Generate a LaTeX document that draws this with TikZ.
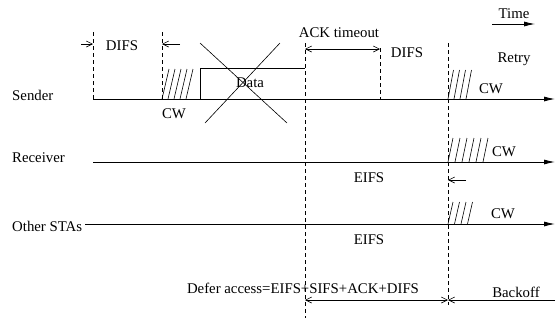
\documentclass[tikz,border=0pt]{standalone}
\usepackage{fontspec}
\setmainfont{Liberation Serif}
\usetikzlibrary{arrows.meta}
\tikzset{barb/.tip={Straight Barb[length=6pt,width=6pt]}}
\begin{document}
\begin{tikzpicture}[x=1pt,y=-1pt,
  lbl/.style={font=\fontsize{14.8}{16}\selectfont, inner sep=0pt, anchor=base},
  lblw/.style={lbl, anchor=base west},
  axis/.style={line width=0.9pt,-{Latex[length=11pt,width=5pt]}},
  guide/.style={dash pattern=on 4pt off 3pt, line width=0.6pt},
  dim/.style={line width=0.6pt},
  hatch/.style={line width=0.6pt}]
\useasboundingbox (0,0) rectangle (558,322);

% labels
\node[lblw] (sender) at (12,100) {Sender};
\node[lblw] (receiver) at (12,162) {Receiver};
\node[lblw] (others) at (12,231) {Other STAs};
\node[lbl] (difsA) at (122,50) {DIFS};
\node[lbl] (cwA) at (174,118) {CW};
\node[lbl] (data) at (250,87) {Data};
\node[lbl] (ack) at (339,37) {ACK timeout};
\node[lbl] (difsB) at (407,57) {DIFS};
\node[lbl] (time) at (514,18) {Time};
\node[lbl] (retry) at (514,62) {Retry};
\node[lbl] (cwB) at (491,93) {CW};
\node[lbl] (cwC) at (504,156) {CW};
\node[lbl] (eifsA) at (369,182) {EIFS};
\node[lbl] (cwD) at (503,218) {CW};
\node[lbl] (eifsB) at (369,244) {EIFS};
\node[lbl] (defer) at (303,293) {Defer access=EIFS+SIFS+ACK+DIFS};
\node[lbl] (backoff) at (516,297) {Backoff};

% time lines
\coordinate (s0) at (93,99);  \coordinate (s1) at (555,99);
\coordinate (r0) at (93,162); \coordinate (r1) at (555,162);
\coordinate (o0) at (85,224); \coordinate (o1) at (555,224);
\draw[axis] (s0) -- (s1);
\draw[axis] (r0) -- (r1);
\draw[axis] (o0) -- (o1);

% Time arrow
\coordinate (t0) at (492,24); \coordinate (t1) at (535,24);
\draw[axis, line width=0.8pt] (t0) -- (t1);

% dashed guides
\coordinate (g1a) at (93,32);  \coordinate (g1b) at (93,99);
\coordinate (g2a) at (162,32); \coordinate (g2b) at (162,99);
\coordinate (g3a) at (305,43); \coordinate (g3b) at (305,318);
\coordinate (g4a) at (380,48); \coordinate (g4b) at (380,99);
\coordinate (g5a) at (448,43); \coordinate (g5b) at (448,305);
\foreach \g in {1,...,5} \draw[guide] (g\g a) -- (g\g b);

% DIFS arrows
\coordinate (da0) at (81,44);  \coordinate (da1) at (93,44);
\coordinate (db0) at (180,44); \coordinate (db1) at (162,44);
\draw[dim,-{barb}] (da0) -- (da1);
\draw[dim,-{barb}] (db0) -- (db1);

% ACK timeout
\coordinate (ak0) at (305,49); \coordinate (ak1) at (380,49);
\draw[dim,{barb}-{barb}] (ak0) -- (ak1);

% EIFS small arrow
\coordinate (ea0) at (466,180); \coordinate (ea1) at (448,180);
\draw[dim,-{barb}] (ea0) -- (ea1);

% Defer / Backoff arrows
\coordinate (df0) at (305,300); \coordinate (df1) at (448,300);
\coordinate (bo0) at (555,300);
\draw[dim,{barb}-{barb}] (df0) -- (df1);
\draw[dim,-{barb}] (bo0) -- (df1);

% Data box and cross
\coordinate (d0) at (200,99); \coordinate (d1) at (200,68); \coordinate (d2) at (305,68);
\draw[line width=0.8pt] (d0) -- (d1) -- (d2);
\coordinate (x1) at (200,43); \coordinate (x2) at (287,123);
\coordinate (x3) at (205,123); \coordinate (x4) at (280,43);
\draw[line width=0.6pt] (x1) -- (x2);
\draw[line width=0.6pt] (x3) -- (x4);

% hatching
\foreach \i in {0,...,4} \draw[hatch] (162+6*\i,99) -- (169+6*\i,69);
\foreach \i in {0,...,3} \draw[hatch] (448+6*\i,99) -- (453.5+6*\i,70);
\foreach \i in {0,...,5} \draw[hatch] (448+7*\i,162) -- (453+7*\i,138);
\foreach \i in {0,...,3} \draw[hatch] (448+6.5*\i,224) -- (453+6.5*\i,202);
\end{tikzpicture}
\end{document}
